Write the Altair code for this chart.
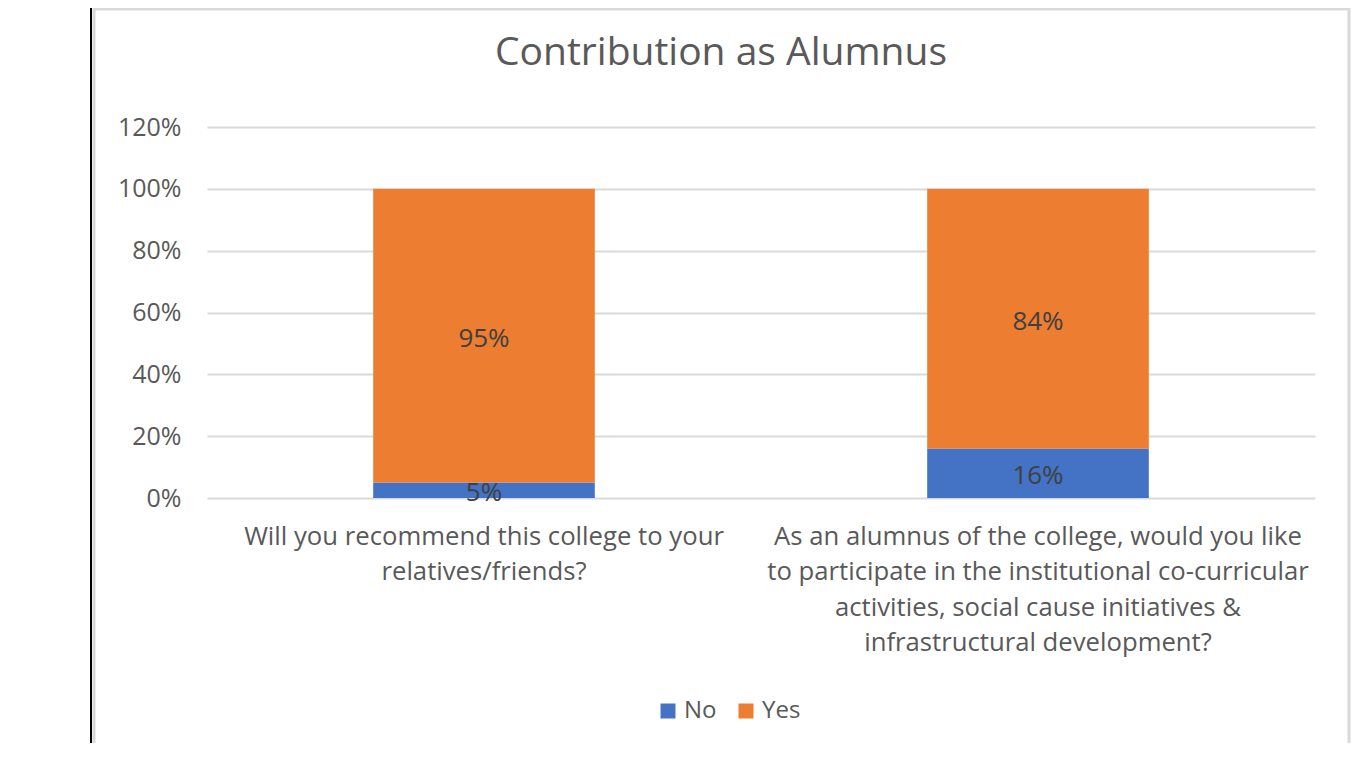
import altair as alt
import pandas as pd

# ---- data ----
questions = [
    "Will you recommend this college to your|relatives/friends?",
    "As an alumnus of the college, would you like|to participate in the institutional co-curricular|activities, social cause initiatives  &|infrastructural development?",
]
answers = ["No", "Yes"]
no_values = [0.05, 0.16]
yes_values = [0.95, 0.84]
y_ticks = [0, 0.2, 0.4, 0.6, 0.8, 1.0, 1.2]
title_text = "Contribution as Alumnus"

rows = []
for q, n, y in zip(questions, no_values, yes_values):
    rows.append({"question": q, "answer": answers[0], "value": n})
    rows.append({"question": q, "answer": answers[1], "value": y})
df = pd.DataFrame(rows)

FONT = "Open Sans"
GRAY = "#595959"

x_enc = alt.X(
    "question:N",
    sort=questions,
    scale=alt.Scale(paddingInner=0.6, paddingOuter=0.3),
    axis=alt.Axis(
        title=None,
        labelAngle=0,
        labelExpr="split(datum.label, '|')",
        labelFont=FONT,
        labelFontSize=25.7,
        labelColor=GRAY,
        labelLineHeight=35.5,
        labelPadding=26,
        labelLimit=0,
        ticks=False,
        tickSize=0,
        domain=False,
        grid=False,
    ),
)

bars = alt.Chart(df).mark_bar().encode(
    x=x_enc,
    y=alt.Y(
        "value:Q",
        stack="zero",
        scale=alt.Scale(domain=[0, 1.2], nice=False),
        axis=alt.Axis(
            title=None,
            values=y_ticks,
            format=".0%",
            labelFont=FONT,
            labelFontSize=25,
            labelColor=GRAY,
            labelPadding=26,
            ticks=False,
            tickSize=0,
            domain=False,
            grid=True,
            gridColor="#d9d9d9",
            gridWidth=2,
        ),
    ),
    color=alt.Color(
        "answer:N",
        scale=alt.Scale(domain=answers, range=["#4472C4", "#ED7D31"]),
        legend=alt.Legend(
            title=None,
            orient="none",
            direction="horizontal",
            legendX=449,
            legendY=572,
            symbolType="square",
            symbolSize=225,
            symbolStrokeWidth=0,
            labelFont=FONT,
            labelFontSize=24,
            labelColor=GRAY,
            columnPadding=17,
            labelOffset=4,
        ),
    ),
    order=alt.Order("answer:N", sort="ascending"),
)

labels = (
    alt.Chart(df)
    .transform_stack(
        stack="value",
        as_=["v0", "v1"],
        groupby=["question"],
        sort=[alt.SortField("answer", order="ascending")],
    )
    .transform_calculate(mid="(datum.v0 + datum.v1) / 2")
    .mark_text(font=FONT, fontSize=26, color="#404040", dy=3)
    .encode(
        x=alt.X("question:N", sort=questions),
        y=alt.Y("mid:Q"),
        text=alt.Text("value:Q", format=".0%"),
    )
)

frame_df = pd.DataFrame({"k": [0]})
frame = alt.Chart(frame_df).mark_rect(
    fillOpacity=0, stroke="#d9d9d9", strokeWidth=3
).encode(
    x=alt.value(-113), x2=alt.value(1142), y=alt.value(-118), y2=alt.value(640)
)
doc_line = alt.Chart(frame_df).mark_rule(color="black", strokeWidth=2).encode(
    x=alt.value(-116), y=alt.value(-119), y2=alt.value(640)
)

chart = (
    alt.layer(frame, doc_line, bars, labels)
    .properties(
        width=1108,
        height=371,
        title=alt.Title(
            title_text,
            font=FONT,
            fontSize=39,
            fontWeight="normal",
            color=GRAY,
            anchor="middle",
            baseline="alphabetic",
            dx=-40,
            dy=97,
            offset=0,
        ),
        padding={"left": 199, "top": 119, "right": 38, "bottom": 245},
        autosize=alt.AutoSizeParams(type="none"),
        background="white",
    )
    .configure_view(stroke=None)
)

chart.save("out.html", embed_options={"renderer": "svg", "actions": False})
